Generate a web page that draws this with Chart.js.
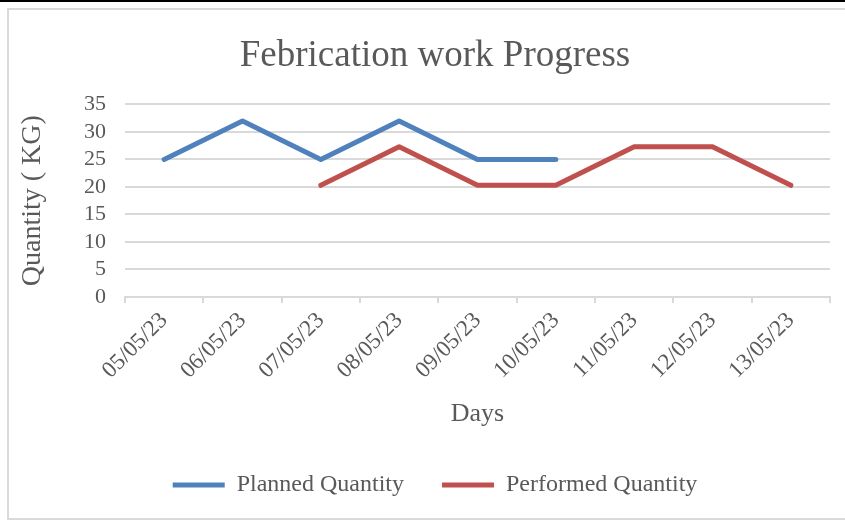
<!DOCTYPE html>
<html>
<head>
<meta charset="utf-8">
<script src="https://cdn.jsdelivr.net/npm/chart.js@4.4.1/dist/chart.umd.min.js"></script>
<style>
  html, body { margin: 0; padding: 0; background: #fff; }
  #wrap { position: relative; width: 845px; height: 520px; overflow: hidden; }
  #topline { position: absolute; left: 0; top: 0; width: 845px; height: 2px; background: #000; }
  #frame { position: absolute; left: 7px; top: 8px; width: 850px; height: 512px; border: 2px solid #d9d9d9; box-sizing: border-box; }
  #myChart { position: absolute; left: 0; top: 0; }
</style>
</head>
<body>
<div id="wrap">
  <div id="topline"></div>
  <div id="frame"></div>
  <canvas id="myChart" width="845" height="520"></canvas>
</div>
<script>
var days = ["05/05/23", "06/05/23", "07/05/23", "08/05/23", "09/05/23", "10/05/23", "11/05/23", "12/05/23", "13/05/23"];
var plannedQty = [25, 32, 25, 32, 25, 25, null, null, null];
var performedQty = [null, null, 20.3, 27.3, 20.3, 20.3, 27.3, 27.3, 20.3];
var yTicks = [0, 5, 10, 15, 20, 25, 30, 35];

var serif = "'Liberation Serif', 'Times New Roman', serif";
var grey = "#595959";

function setUpGraph() {
    var ctx = document.getElementById('myChart').getContext('2d');
    var myChart = new Chart(ctx, {
        type: 'line',
        data: {
            labels: days,
            datasets: [{
                label: 'Planned Quantity',
                data: plannedQty,
                borderColor: "#4f81bd",
                backgroundColor: "#4f81bd",
                borderWidth: 5,
                borderCapStyle: 'round',
                borderJoinStyle: 'round',
                pointRadius: 0,
                tension: 0
            }, {
                label: 'Performed Quantity',
                data: performedQty,
                borderColor: "#c0504d",
                backgroundColor: "#c0504d",
                borderWidth: 5,
                borderCapStyle: 'round',
                borderJoinStyle: 'round',
                pointRadius: 0,
                tension: 0
            }]
        },
        options: {
            responsive: false,
            animation: false,
            // left padding keeps title and legend centred on the frame like the original
            layout: { padding: { left: 40, right: 15, top: 0, bottom: 13 } },
            plugins: {
                title: {
                    display: true,
                    text: 'Febrication work Progress',
                    color: grey,
                    font: { family: serif, size: 37, weight: 'normal' },
                    padding: { top: 34, bottom: 26 }
                },
                legend: {
                    position: 'bottom',
                    labels: {
                        color: grey,
                        font: { family: serif, size: 24 },
                        usePointStyle: true,
                        pointStyle: 'line',
                        pointStyleWidth: 52,
                        padding: 38
                    }
                },
                tooltip: { enabled: false }
            },
            scales: {
                x: {
                    offset: true,
                    grid: {
                        offset: true,
                        drawOnChartArea: false,
                        drawTicks: true,
                        tickLength: 6,
                        color: "#d9d9d9",
                        lineWidth: 2
                    },
                    border: { display: true, color: "#d9d9d9", width: 2 },
                    ticks: {
                        color: grey,
                        font: { family: serif, size: 23 },
                        maxRotation: 45,
                        minRotation: 45,
                        padding: 4,
                        autoSkip: false
                    },
                    title: {
                        display: true,
                        text: 'Days',
                        color: grey,
                        font: { family: serif, size: 26 },
                        padding: { top: 0, bottom: 5 }
                    },
                    afterFit: function (scale) { scale.height = 138; }
                },
                y: {
                    min: 0,
                    max: 35,
                    afterBuildTicks: function (scale) {
                        scale.ticks = yTicks.map(function (v) { return { value: v }; });
                    },
                    grid: {
                        drawTicks: false,
                        color: "#d9d9d9",
                        lineWidth: 2
                    },
                    border: { display: false },
                    ticks: {
                        color: grey,
                        font: { family: serif, size: 22 },
                        padding: 19,
                        autoSkip: false
                    },
                    title: {
                        display: true,
                        text: 'Quantity ( KG)',
                        color: grey,
                        font: { family: serif, size: 28 },
                        padding: { top: -24, bottom: 0 }
                    },
                    afterFit: function (scale) { scale.width = 85; }
                }
            }
        }
    });
}

setUpGraph();
</script>
</body>
</html>
